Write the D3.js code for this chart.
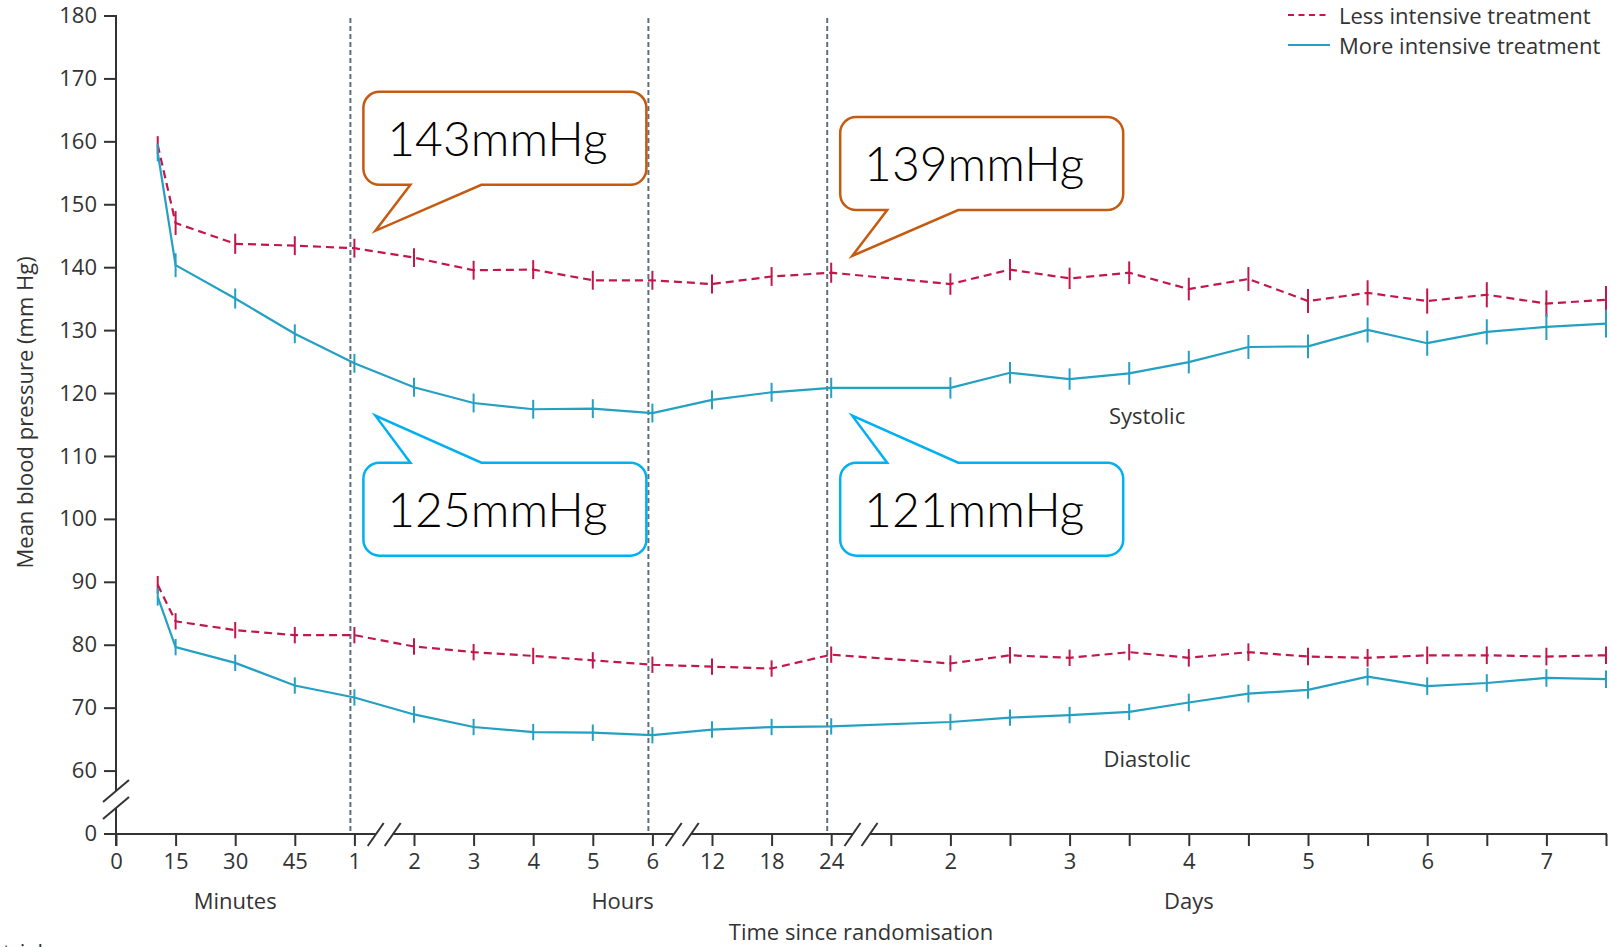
<!DOCTYPE html>
<html>
<head>
<meta charset="utf-8">
<script src="https://cdn.jsdelivr.net/npm/d3@7"></script>
<style>
  body { margin: 0; background: #fff; }
  svg { display: block; }
  text { font-family: "Open Sans", sans-serif; fill: #333; }
</style>
</head>
<body>
<svg id="chart" width="1611" height="947"></svg>
<script>
// x axis is an ordinal "slot" axis with breaks; one slot per tick
const xTickLabels = ['0', '15', '30', '45', '1', '2', '3', '4', '5', '6', '12', '18', '24',
                     '', '2', '', '3', '', '4', '', '5', '', '6', '', '7', ''];
const yTickValues = [0, 60, 70, 80, 90, 100, 110, 120, 130, 140, 150, 160, 170, 180];

// slot of each measurement (baseline sits between 0 and 15 min)
const obsSlots = [0.7, 1, 2, 3, 4, 5, 6, 7, 8, 9, 10, 11, 12,
                  14, 15, 16, 17, 18, 19, 20, 21, 22, 23, 24, 25];

const sysLess = [159.5, 147.1, 143.8, 143.5, 143.1, 141.6, 139.6, 139.7, 138.0, 138.0, 137.4, 138.6, 139.2,
                 137.4, 139.7, 138.3, 139.2, 136.6, 138.2, 134.7, 136.0, 134.7, 135.7, 134.3, 134.9];
const sysMore = [158.3, 140.4, 135.1, 129.5, 124.8, 121.0, 118.5, 117.5, 117.6, 116.9, 119.0, 120.2, 120.9,
                 120.9, 123.3, 122.3, 123.2, 125.0, 127.4, 127.5, 130.1, 128.0, 129.8, 130.6, 131.1];
const diaLess = [89.6, 83.8, 82.4, 81.6, 81.6, 79.8, 78.9, 78.3, 77.6, 76.9, 76.6, 76.3, 78.5,
                 77.1, 78.4, 78.0, 78.9, 78.0, 78.9, 78.2, 78.0, 78.4, 78.4, 78.2, 78.4];
const diaMore = [87.7, 79.7, 77.2, 73.6, 71.7, 69.0, 67.0, 66.2, 66.1, 65.7, 66.6, 67.0, 67.1,
                 67.8, 68.5, 68.9, 69.4, 70.9, 72.3, 72.9, 75.0, 73.5, 74.0, 74.8, 74.6];

// half widths of the 95% CI bars (mm Hg)
const sysErr = [1.4, 1.9, 1.6, 1.5, 1.5, 1.5, 1.5, 1.5, 1.5, 1.5, 1.5, 1.5, 1.6,
                1.7, 1.7, 1.7, 1.8, 1.8, 1.9, 1.9, 2.0, 2.0, 2.0, 2.1, 2.2];
const diaErr = [1.4, 1.3, 1.3, 1.3, 1.3, 1.3, 1.3, 1.3, 1.3, 1.3, 1.3, 1.3, 1.3,
                1.3, 1.3, 1.3, 1.3, 1.4, 1.4, 1.4, 1.4, 1.4, 1.4, 1.4, 1.4];

const groupLabels = [{text: 'Minutes', slot: 2}, {text: 'Hours', slot: 8.5}, {text: 'Days', slot: 18}];
const refSlots = [4, 9, 12];
const xBreaks = [4.5, 9.5, 12.5];
const yBreak = 55.5;

const callouts = [
  {text: '143mmHg', slot: 4, value: 143, side: 'above', color: '#c55a11'},
  {text: '139mmHg', slot: 12, value: 139, side: 'above', color: '#c55a11'},
  {text: '125mmHg', slot: 4, value: 125, side: 'below', color: '#00b0f0'},
  {text: '121mmHg', slot: 12, value: 121, side: 'below', color: '#00b0f0'}
];
const seriesNames = ['Less intensive treatment', 'More intensive treatment'];
const panelLabels = [{text: 'Systolic', slot: 17.3, value: 116.6}, {text: 'Diastolic', slot: 17.3, value: 62.1}];

const RED = '#c2174b', BLUE = '#23a0c2', INK = '#333';

const svg = d3.select('#chart');
const plotL = 116, plotR = 1606, plotT = 16, plotB = 834;

const xs = d3.scaleLinear().domain([0, 25]).range([plotL, plotR]);
// value 50 stands in for the broken-off 0
const ys = d3.scaleLinear().domain([50, 180]).range([plotB, plotT]);
const yv = v => v === 0 ? ys(50) : ys(v);

// vertical reference lines
svg.selectAll('.ref').data(refSlots).enter().append('line')
  .attr('x1', d => xs(d) - 4).attr('x2', d => xs(d) - 4)
  .attr('y1', plotT + 2).attr('y2', plotB)
  .attr('stroke', '#5f6f7c').attr('stroke-width', 2).attr('stroke-dasharray', '5,3');

// y axis
const yAxis = svg.append('g').attr('transform', 'translate(' + plotL + ',0)')
  .call(d3.axisLeft(d3.scaleLinear().domain([0, 1]).range([0, 1]))
    .tickValues(yTickValues).tickSize(12).tickPadding(7).tickFormat(d => d));
yAxis.selectAll('.tick').attr('transform', d => 'translate(0,' + yv(d) + ')');
yAxis.select('.domain').remove();
yAxis.selectAll('.tick line').attr('stroke', INK).attr('stroke-width', 2);
yAxis.selectAll('.tick text').style('font-size', '22px').attr('fill', INK);

// x axis
const xAxis = svg.append('g').attr('transform', 'translate(0,' + plotB + ')')
  .call(d3.axisBottom(xs).tickValues(d3.range(26)).tickSize(12).tickPadding(7)
    .tickFormat(i => xTickLabels[i]));
xAxis.select('.domain').remove();
xAxis.selectAll('.tick line').attr('stroke', INK).attr('stroke-width', 2);
xAxis.selectAll('.tick text').style('font-size', '22px').attr('fill', INK);

// axis lines with gaps at the breaks
const gap = 8.5;
const xStops = [0].concat(xBreaks, [25]);
for (let i = 0; i < xStops.length - 1; i++) {
  const a = xs(xStops[i]) + (i === 0 ? -1 : gap);
  const b = xs(xStops[i + 1]) - (i === xStops.length - 2 ? -1 : gap);
  svg.append('line').attr('x1', a).attr('x2', b).attr('y1', plotB).attr('y2', plotB)
    .attr('stroke', INK).attr('stroke-width', 2);
}
svg.append('line').attr('x1', plotL).attr('x2', plotL).attr('y1', plotT - 1).attr('y2', ys(yBreak) - gap)
  .attr('stroke', INK).attr('stroke-width', 2);
svg.append('line').attr('x1', plotL).attr('x2', plotL).attr('y1', ys(yBreak) + gap).attr('y2', plotB + 12)
  .attr('stroke', INK).attr('stroke-width', 2);

// break slashes
xBreaks.forEach(b => {
  [-gap, gap].forEach(o => {
    const cx = xs(b) + o;
    svg.append('line').attr('x1', cx - 8).attr('y1', plotB + 12).attr('x2', cx + 8).attr('y2', plotB - 11)
      .attr('stroke', INK).attr('stroke-width', 2);
  });
});
[-gap, gap].forEach(o => {
  const cy = ys(yBreak) + o;
  svg.append('line').attr('x1', plotL - 13).attr('y1', cy + 11).attr('x2', plotL + 13).attr('y2', cy - 11)
    .attr('stroke', INK).attr('stroke-width', 2);
});

// series
const series = [
  {vals: sysLess, err: sysErr, color: RED, dash: '8,5'},
  {vals: sysMore, err: sysErr, color: BLUE, dash: null},
  {vals: diaLess, err: diaErr, color: RED, dash: '8,5'},
  {vals: diaMore, err: diaErr, color: BLUE, dash: null}
];
const line = d3.line().x(d => xs(d[0])).y(d => ys(d[1]));
series.forEach(s => {
  const pts = obsSlots.map((t, i) => [t, s.vals[i], s.err[i]]);
  svg.append('path').datum(pts).attr('d', line)
    .attr('fill', 'none').attr('stroke', s.color).attr('stroke-width', 2.2)
    .attr('stroke-dasharray', s.dash);
  svg.append('g').selectAll('line').data(pts).enter().append('line')
    .attr('x1', d => xs(d[0])).attr('x2', d => xs(d[0]))
    .attr('y1', d => ys(d[1] - d[2])).attr('y2', d => ys(d[1] + d[2]))
    .attr('stroke', s.color).attr('stroke-width', 2);
});

// panel labels
svg.selectAll('.panel').data(panelLabels).enter().append('text')
  .attr('x', d => xs(d.slot)).attr('y', d => ys(d.value))
  .attr('text-anchor', 'middle').attr('dominant-baseline', 'central')
  .style('font-size', '22px').text(d => d.text);

// group labels and axis titles
svg.selectAll('.grp').data(groupLabels).enter().append('text')
  .attr('x', d => xs(d.slot)).attr('y', plotB + 75)
  .attr('text-anchor', 'middle').style('font-size', '22px').text(d => d.text);
svg.append('text').attr('x', (xs(0) + xs(25)) / 2).attr('y', plotB + 106)
  .attr('text-anchor', 'middle').style('font-size', '22px').text('Time since randomisation');
svg.append('text').attr('transform', 'translate(33,' + ys(117) + ') rotate(-90)')
  .attr('text-anchor', 'middle').style('font-size', '22px').text('Mean blood pressure (mm Hg)');
// caption line below the figure, cropped by the frame as in the source
svg.append('text').attr('x', 3).attr('y', plotB + 126).style('font-size', '22px').text('trial');

// legend
const legend = svg.append('g').attr('transform', 'translate(1288,15)');
seriesNames.forEach((name, i) => {
  const g = legend.append('g').attr('transform', 'translate(0,' + i * 30 + ')');
  g.append('line').attr('x1', 0).attr('x2', 42).attr('y1', 0).attr('y2', 0)
    .attr('stroke', i === 0 ? RED : BLUE).attr('stroke-width', 2.2)
    .attr('stroke-dasharray', i === 0 ? '6,4.5' : null);
  g.append('text').attr('x', 51).attr('y', 0).attr('dominant-baseline', 'central')
    .style('font-size', '22px').text(name);
});

// callouts
function calloutPath(L, T, W, H, r, side, a, b, tx, ty) {
  const p = [];
  if (side === 'below') p.push('M', L + r, T, 'H', L + a, 'L', tx, ty, 'L', L + b, T);
  else p.push('M', L + r, T);
  p.push('H', L + W - r, 'A', r, r, 0, 0, 1, L + W, T + r,
         'V', T + H - r, 'A', r, r, 0, 0, 1, L + W - r, T + H);
  if (side === 'above') p.push('H', L + b, 'L', tx, ty, 'L', L + a, T + H);
  p.push('H', L + r, 'A', r, r, 0, 0, 1, L, T + H - r, 'V', T + r, 'A', r, r, 0, 0, 1, L + r, T, 'Z');
  return p.join(' ');
}
const boxW = 283, boxH = 93;
// lower callouts share one level, set from their mean value
const lowerLevel = d3.mean(callouts.filter(c => c.side === 'below'), c => c.value);
callouts.forEach(c => {
  const tx = xs(c.slot) + 21;
  const ty = c.side === 'above' ? ys(c.value) - 18 : ys(lowerLevel) + 41;
  const L = tx - 12;
  const T = c.side === 'above' ? ty - 46 - boxH : ty + 47;
  svg.append('path').attr('d', calloutPath(L, T, boxW, boxH, 16, c.side, 47, 118, tx, ty))
    .attr('fill', '#fff').attr('stroke', c.color).attr('stroke-width', 2.5);
  svg.append('text').attr('x', L + 134).attr('y', T + 64).attr('text-anchor', 'middle')
    .style('font-family', 'Lato, sans-serif').style('font-weight', 300)
    .style('font-size', '48px').style('fill', '#000')
    .text(c.text);
});
</script>
</body>
</html>
